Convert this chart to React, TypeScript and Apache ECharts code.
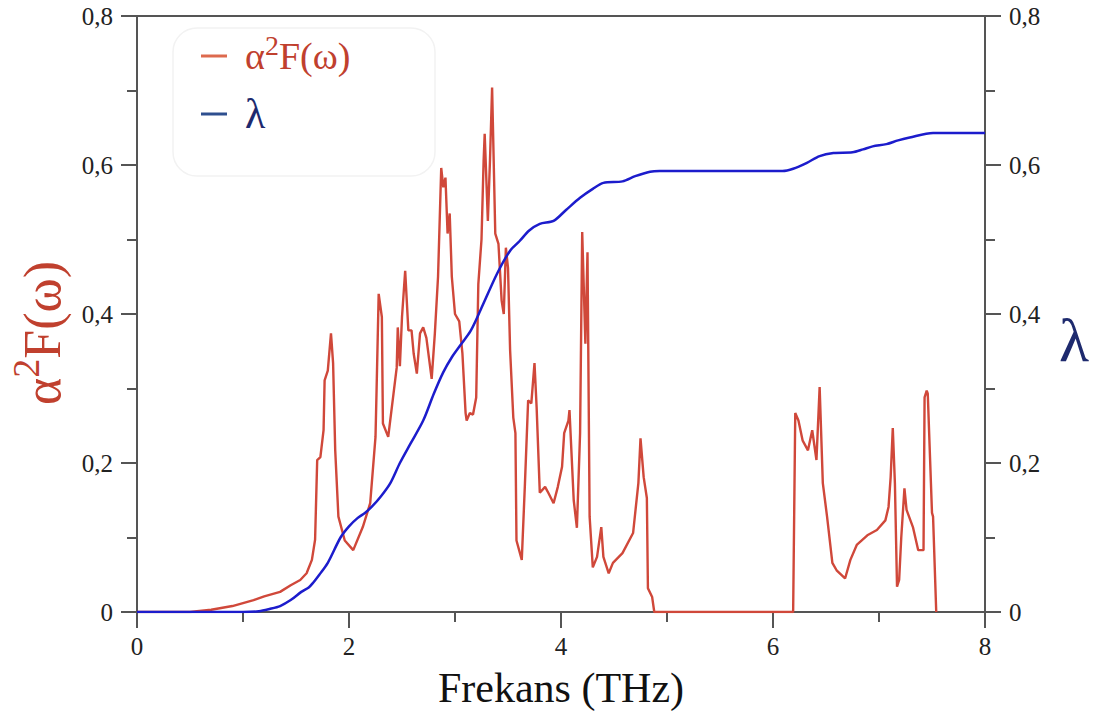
import React, { useEffect, useRef } from "react";
import * as echarts from "echarts";

const SERIES_A = "α²F(ω)";
const SERIES_L = "λ";

const alphaFreq = [
  0, 0.5, 0.7, 0.9, 1.0, 1.1, 1.2, 1.35, 1.45, 1.54, 1.6, 1.65, 1.68, 1.7, 1.73, 1.76, 1.77, 1.8, 1.83, 1.85,
  1.87, 1.9, 1.96, 2.04, 2.13, 2.2, 2.25, 2.26, 2.28, 2.31, 2.32, 2.37, 2.42, 2.45, 2.46, 2.48, 2.5, 2.53, 2.56,
  2.59, 2.61, 2.64, 2.67, 2.7, 2.73, 2.78, 2.81, 2.84, 2.87, 2.89, 2.91, 2.93, 2.95, 2.97, 3.0, 3.04, 3.07, 3.1,
  3.11, 3.14, 3.17, 3.2, 3.22, 3.25, 3.27, 3.28, 3.31, 3.33, 3.35, 3.38, 3.41, 3.44, 3.46, 3.48, 3.5, 3.52, 3.55,
  3.57, 3.58, 3.63, 3.66, 3.69, 3.72, 3.75, 3.77, 3.8, 3.85, 3.88, 3.93, 3.97, 4.01, 4.03, 4.07, 4.08, 4.12, 4.15,
  4.18, 4.2, 4.23, 4.25, 4.27, 4.3, 4.34, 4.38, 4.4, 4.45, 4.49, 4.58, 4.68, 4.73, 4.75, 4.78, 4.81, 4.82, 4.86,
  4.88, 6.19, 6.21, 6.24, 6.28, 6.33, 6.37, 6.41, 6.44, 6.47, 6.51, 6.56, 6.6, 6.68, 6.73, 6.79, 6.89, 6.98, 7.06,
  7.09, 7.11, 7.13, 7.15, 7.17, 7.19, 7.21, 7.24, 7.26, 7.32, 7.37, 7.42, 7.43, 7.45, 7.46, 7.5, 7.51, 7.54,
];
const alphaVal = [
  0, 0, 0.003, 0.008, 0.012, 0.016, 0.021, 0.027, 0.036, 0.043, 0.052, 0.07, 0.097, 0.204, 0.208, 0.244, 0.311,
  0.324, 0.374, 0.334, 0.217, 0.128, 0.096, 0.083, 0.114, 0.146, 0.235, 0.297, 0.427, 0.396, 0.253, 0.235, 0.293,
  0.328, 0.382, 0.33, 0.396, 0.458, 0.378, 0.378, 0.347, 0.32, 0.374, 0.382, 0.368, 0.313, 0.374, 0.45, 0.596,
  0.57, 0.583, 0.508, 0.535, 0.45, 0.4, 0.39, 0.347, 0.267, 0.257, 0.267, 0.265, 0.288, 0.44, 0.5, 0.606, 0.642,
  0.525, 0.606, 0.704, 0.508, 0.494, 0.418, 0.4, 0.489, 0.462, 0.351, 0.261, 0.24, 0.096, 0.07, 0.173, 0.284,
  0.28, 0.334, 0.275, 0.16, 0.168, 0.16, 0.146, 0.168, 0.195, 0.24, 0.257, 0.271, 0.15, 0.113, 0.24, 0.51, 0.36,
  0.483, 0.128, 0.06, 0.074, 0.114, 0.074, 0.052, 0.066, 0.079, 0.106, 0.173, 0.233, 0.181, 0.153, 0.032, 0.02,
  0, 0, 0.267, 0.257, 0.23, 0.217, 0.244, 0.204, 0.302, 0.173, 0.128, 0.066, 0.056, 0.045, 0.07, 0.09, 0.103,
  0.11, 0.123, 0.141, 0.181, 0.247, 0.173, 0.034, 0.043, 0.1, 0.166, 0.137, 0.114, 0.083, 0.083, 0.288, 0.297,
  0.293, 0.133, 0.128, 0,
];

const lambdaFreq = [
  0, 1.0, 1.15, 1.25, 1.35, 1.45, 1.55, 1.62, 1.66, 1.72, 1.8, 1.92, 2.0, 2.08, 2.15, 2.22, 2.3, 2.39, 2.48, 2.58,
  2.7, 2.8, 2.89, 2.97, 3.05, 3.15, 3.24, 3.4, 3.52, 3.61, 3.7, 3.8, 3.93, 4.05, 4.18, 4.3, 4.4, 4.58, 4.7, 4.84,
  4.93, 6.09, 6.19, 6.32, 6.44, 6.57, 6.75, 6.85, 6.94, 7.07, 7.18, 7.29, 7.51, 8.0,
];
const lambdaVal = [
  0, 0, 0.001, 0.004, 0.008, 0.016, 0.027, 0.033, 0.039, 0.05, 0.066, 0.1, 0.115, 0.126, 0.133, 0.142, 0.155,
  0.173, 0.2, 0.226, 0.257, 0.293, 0.322, 0.342, 0.358, 0.378, 0.405, 0.455, 0.485, 0.498, 0.512, 0.521, 0.525,
  0.54, 0.556, 0.568, 0.576, 0.578, 0.585, 0.591, 0.592, 0.592, 0.595, 0.603, 0.612, 0.616, 0.617, 0.621, 0.625,
  0.628, 0.633, 0.637, 0.643, 0.643,
];

const xTicks = [0, 2, 4, 6, 8];
const yTicks = [0, 0.2, 0.4, 0.6, 0.8];

const RED = "#d0483a";
const BLUE = "#1c1ccc";
const NAVY = "#1e2a6e";
const AXIS = "#555555";
const FONT = "'Liberation Serif', 'Times New Roman', serif";

const yFmt = (v: number) => (Math.abs(v) < 1e-9 ? "0" : v.toFixed(1).replace(".", ","));

export default function App() {
  const ref = useRef<HTMLDivElement>(null);
  useEffect(() => {
    if (!ref.current) return;
    const chart = echarts.init(ref.current, null, { renderer: "svg" });
    const alphaData = alphaFreq.map((f, i) => [f, alphaVal[i]]);
    const lambdaData = lambdaFreq.map((f, i) => [f, lambdaVal[i]]);
    const yAxisBase = (pos: "left" | "right") => ({
      type: "value",
      position: pos,
      min: yTicks[0],
      max: yTicks[yTicks.length - 1],
      interval: 0.2,
      axisLine: { show: true, lineStyle: { color: AXIS, width: 2 } },
      axisTick: { show: true, length: 16, lineStyle: { color: AXIS, width: 2 } },
      minorTick: { show: true, splitNumber: 2, length: 10, lineStyle: { color: AXIS, width: 2 } },
      splitLine: { show: false },
      minorSplitLine: { show: false },
      axisLabel: { formatter: yFmt, fontFamily: FONT, fontSize: 25, color: "#222", margin: 24 },
    });
    chart.setOption({
      animation: false,
      backgroundColor: "#ffffff",
      grid: {
        left: 137,
        right: 114,
        top: 16,
        bottom: 105,
        show: true,
        borderColor: AXIS,
        borderWidth: 2,
      },
      legend: {
        orient: "vertical",
        left: 196,
        top: 26,
        icon: "rect",
        itemWidth: 26,
        itemHeight: 3,
        itemGap: 18,
        data: [
          { name: SERIES_A, itemStyle: { color: "#dd6a4e" } },
          { name: SERIES_L, itemStyle: { color: "#2e4f8f" } },
        ],
        formatter: (name: string) => (name === SERIES_A ? "{a|α}{s|2}{a|F(ω)}" : "{l|λ}"),
        textStyle: {
          fontFamily: FONT,
          padding: [0, 0, 0, 13],
          rich: {
            a: { fontFamily: FONT, fontSize: 38, color: "#c0402e", lineHeight: 50 },
            s: { fontFamily: FONT, fontSize: 28, color: "#c0402e", lineHeight: 20, verticalAlign: "top" },
            l: { fontFamily: FONT, fontSize: 42, color: NAVY, lineHeight: 40 },
          },
        },
      },
      xAxis: {
        type: "value",
        min: xTicks[0],
        max: xTicks[xTicks.length - 1],
        interval: 2,
        name: "Frekans (THz)",
        nameLocation: "middle",
        nameGap: 55,
        nameTextStyle: { fontFamily: FONT, fontSize: 42, color: "#111" },
        axisLine: { show: true, lineStyle: { color: AXIS, width: 2 } },
        axisTick: { show: true, length: 16, lineStyle: { color: AXIS, width: 2 } },
        minorTick: { show: true, splitNumber: 2, length: 10, lineStyle: { color: AXIS, width: 2 } },
        splitLine: { show: false },
        minorSplitLine: { show: false },
        axisLabel: { fontFamily: FONT, fontSize: 25, color: "#222", margin: 22 },
      },
      yAxis: [yAxisBase("left"), yAxisBase("right")],
      graphic: [
        {
          type: "rect",
          shape: { x: 173, y: 28, width: 262, height: 148, r: 24 },
          style: { fill: "rgba(255,255,255,0)", stroke: "#f2f2f2", lineWidth: 1.5 },
          z: -1,
        },
        {
          type: "text",
          x: 42,
          y: 333,
          rotation: Math.PI / 2,
          style: {
            text: "{a|α}{s|2}{a|F(ω)}",
            align: "center",
            verticalAlign: "middle",
            rich: {
              a: { fontFamily: FONT, fontSize: 52, fill: "#c0402e", lineHeight: 70 },
              s: { fontFamily: FONT, fontSize: 38, fill: "#c0402e", lineHeight: 30, verticalAlign: "top" },
            },
          },
        },
        {
          type: "text",
          x: 1074,
          y: 340,
          style: {
            text: "λ",
            align: "center",
            verticalAlign: "middle",
            fontFamily: FONT,
            fontSize: 62,
            fill: NAVY,
          },
        },
      ],
      series: [
        {
          name: SERIES_A,
          type: "line",
          yAxisIndex: 0,
          data: alphaData,
          showSymbol: false,
          symbol: "none",
          lineStyle: { color: RED, width: 2.4 },
          itemStyle: { color: RED },
          z: 2,
        },
        {
          name: SERIES_L,
          type: "line",
          yAxisIndex: 1,
          data: lambdaData,
          showSymbol: false,
          symbol: "none",
          smooth: 0.3,
          lineStyle: { color: BLUE, width: 2.5 },
          itemStyle: { color: BLUE },
          z: 3,
        },
      ],
    });
    return () => chart.dispose();
  }, []);
  return (
    <div
      ref={ref}
      style={{ position: "fixed", left: 0, top: 0, width: 1099, height: 717, background: "#fff" }}
    />
  );
}
